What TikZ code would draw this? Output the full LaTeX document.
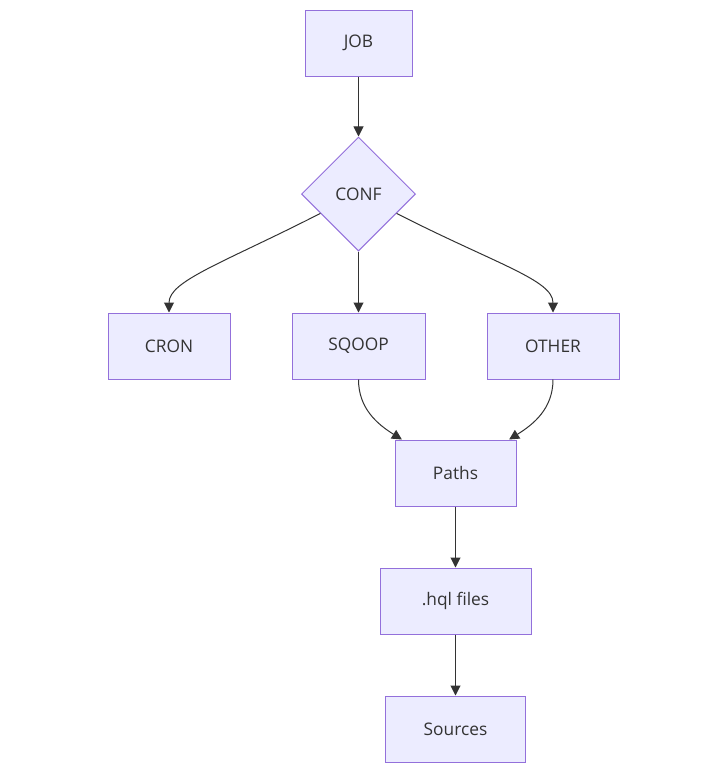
\documentclass[tikz,border=0pt]{standalone}
\usepackage{fontspec}
\setmainfont{Open Sans}
\usetikzlibrary{arrows.meta,shapes.geometric}
\definecolor{boxfill}{HTML}{ECECFF}
\definecolor{boxline}{HTML}{9370DB}
\definecolor{edgeline}{HTML}{333333}
\def\flownode{\node[flowbox]}
\def\drawflow{\draw[flowedge]}

\begin{document}
\begin{tikzpicture}[x=0.75pt,y=0.75pt,inner sep=0pt,
  flowbox/.style={draw=boxline,fill=boxfill,line width=0.75pt,minimum height=49.5pt,
    text=edgeline,font=\fontsize{13}{15}\selectfont},
  choice/.style={flowbox,diamond,aspect=1,minimum width=85.5pt,minimum height=85.5pt},
  flowedge/.style={draw=edgeline,line width=0.75pt,-{Triangle[length=7.5pt,width=7.5pt]}}]
\useasboundingbox (0,0) rectangle (727,-772);
\flownode[minimum width=80.25pt] (job) at (358.5,-43) {JOB};
\node[choice] (conf) at (358.5,-194) {CONF};
\flownode[minimum width=91.5pt] (cron) at (169,-346) {CRON};
\flownode[minimum width=99.75pt] (sqoop) at (358.5,-346) {SQOOP};
\flownode[minimum width=99pt] (other) at (553,-346) {OTHER};
\flownode[minimum width=90.75pt] (paths) at (455.5,-473) {Paths};
\flownode[minimum width=113.25pt] (hql) at (455.5,-601) {.hql files};
\flownode[minimum width=105pt] (src) at (455.5,-729) {Sources};
\drawflow (job) -- (conf);
\drawflow (conf) to[out=-153,in=90,out looseness=1.55,in looseness=0.45] (cron);
\drawflow (conf) -- (sqoop);
\drawflow (conf) to[out=-27,in=90,out looseness=1.55,in looseness=0.45] (other);
\drawflow (sqoop.south) to[out=-90,in=148] (paths);
\drawflow (other.south) to[out=-90,in=32] (paths);
\drawflow (paths) -- (hql);
\drawflow (hql) -- (src);
\end{tikzpicture}
\end{document}
